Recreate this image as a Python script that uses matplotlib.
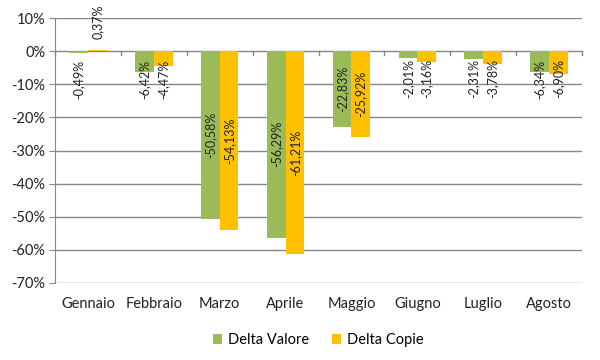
import matplotlib
matplotlib.use("Agg")
import matplotlib.pyplot as plt
import numpy as np

categories = ["Gennaio", "Febbraio", "Marzo", "Aprile", "Maggio", "Giugno", "Luglio", "Agosto"]
delta_valore = [-0.49, -6.42, -50.58, -56.29, -22.83, -2.01, -2.31, -6.34]
delta_copie = [0.37, -4.47, -54.13, -61.21, -25.92, -3.16, -3.78, -6.90]
series_names = ["Delta Valore", "Delta Copie"]
colors = ["#9BBB59", "#FFC000"]

plt.rcParams['font.family'] = ['Lato', 'DejaVu Sans']

fig = plt.figure(figsize=(6, 3.6), dpi=100)
ax = fig.add_axes([55/600, 1-283/360, (582-55)/600, (283-18)/360])

n = len(categories)
x = np.arange(n)
w = 0.285
grid_c = "#868686"

for yv in range(-70, 11, 10):
    ax.axhline(yv, color=grid_c, lw=1.0, zorder=0)

for i, (vals, c) in enumerate(zip([delta_valore, delta_copie], colors)):
    pos = x + (i - 0.5) * w
    ax.bar(pos, vals, width=w, color=c, zorder=2, label=series_names[i])
    for p, v in zip(pos, vals):
        txt = f"{v:.2f}%".replace(".", ",")
        if abs(v) > 14:
            ax.text(p, v / 2, txt, rotation=90, ha="center", va="center", fontsize=9, color="#222222", zorder=3)
        elif v < 0:
            ax.annotate(txt, (p, 0), xytext=(0, -6), textcoords="offset points", rotation=90,
                        ha="center", va="top", fontsize=9, color="#222222", zorder=3)
        else:
            ax.annotate(txt, (p, 0), xytext=(0, 9), textcoords="offset points", rotation=90,
                        ha="center", va="bottom", fontsize=9, color="#222222", zorder=3)

# category axis at zero with ticks at boundaries
for b in np.arange(-0.5, n, 1.0):
    ax.plot([b, b], [0, -1.3], color=grid_c, lw=1.0, zorder=1, clip_on=False)

ax.set_xlim(-0.5, n - 0.5)
ax.set_ylim(-70, 10)
ax.set_yticks(range(-70, 11, 10))
ax.set_yticklabels([f"{t}%" for t in range(-70, 11, 10)])
ax.set_xticks(x)
ax.set_xticklabels(categories)
ax.tick_params(axis="x", length=0, pad=10, labelsize=10.5, colors="#222222")
ax.tick_params(axis="y", length=4, color=grid_c, labelsize=10.5, colors="#222222", pad=3)
for s in ["top", "right", "bottom"]:
    ax.spines[s].set_visible(False)
ax.spines["left"].set_color(grid_c)

ax.legend(loc="upper center", bbox_to_anchor=(0.5, -0.14), ncol=2, frameon=False,
          fontsize=10.5, handlelength=0.6, handleheight=0.6, handletextpad=0.4, columnspacing=1.6)

fig.savefig("out.png", dpi=100)
